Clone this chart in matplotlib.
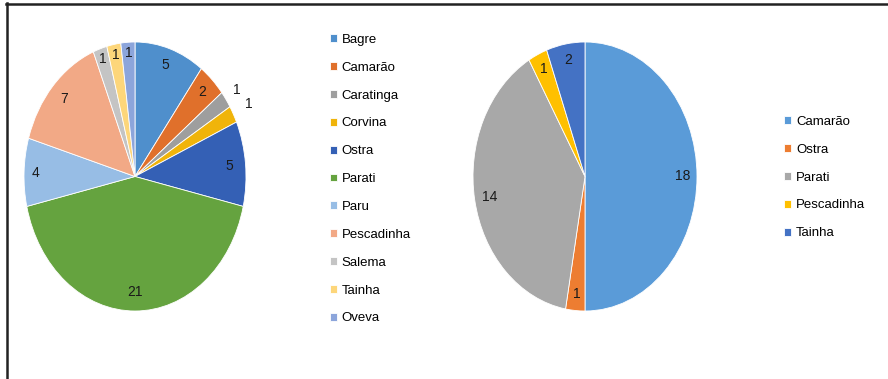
import matplotlib.pyplot as plt
import numpy as np
from matplotlib.lines import Line2D

plt.rcParams["font.family"] = ["Liberation Sans", "DejaVu Sans"]

# catch by species, site 1
species_1 = ["Bagre", "Camarão", "Caratinga", "Corvina", "Ostra", "Parati",
             "Paru", "Pescadinha", "Salema", "Tainha", "Oveva"]
counts_1 = [5, 2, 1, 1, 5, 21, 4, 7, 1, 1, 1]
colors_1 = ["#4F8FCC", "#E0702B", "#9E9E9E", "#F0B40A", "#3460B5", "#65A33F",
            "#97BDE5", "#F2A986", "#C4C4C4", "#FDD67A", "#8CA5DB"]

# catch by species, site 2
species_2 = ["Camarão", "Ostra", "Parati", "Pescadinha", "Tainha"]
counts_2 = [18, 1, 14, 1, 2]
colors_2 = ["#5A9BD8", "#ED7D31", "#A8A8A8", "#FFC000", "#4472C4"]

W, H = 888, 379
fig = plt.figure(figsize=(W / 100, H / 100), dpi=100)


def px_axes(x0, y0, x1, y1):
    return fig.add_axes([x0 / W, 1 - y1 / H, (x1 - x0) / W, (y1 - y0) / H])


def draw_pie(ax, counts, colors, label_r):
    wedges, _ = ax.pie(counts, colors=colors, startangle=90, counterclock=False,
                       radius=1.0, wedgeprops=dict(edgecolor="white", linewidth=0.6))
    ax.set_aspect("auto")
    ax.set_xlim(-1, 1)
    ax.set_ylim(-1, 1)
    for w, v, r in zip(wedges, counts, label_r):
        mid = np.deg2rad((w.theta1 + w.theta2) / 2)
        ax.text(r * np.cos(mid), r * np.sin(mid), str(v), ha="center", va="center",
                fontsize=10, color="#1a1a1a")
    return wedges


ax1 = px_axes(24, 42, 246, 311)
r1 = [0.87, 0.87, 1.12, 1.16, 0.85, 0.86, 0.9, 0.86, 0.92, 0.92, 0.92]
w1 = draw_pie(ax1, counts_1, colors_1, r1)

ax2 = px_axes(473, 42, 697, 311)
r2 = [0.87, 0.88, 0.86, 0.88, 0.88]
w2 = draw_pie(ax2, counts_2, colors_2, r2)

leg_kw = dict(loc="upper left", frameon=False, fontsize=9.5, handlelength=0.55,
              handleheight=0.55, handletextpad=0.35, labelspacing=1.2,
              borderpad=0, borderaxespad=0)
fig.legend(w1, species_1, bbox_to_anchor=(330 / W, 1 - 34 / H), **leg_kw)
fig.legend(w2, species_2, bbox_to_anchor=(784 / W, 1 - 116 / H), **leg_kw)

# outer frame: top and left edges only
fig.add_artist(Line2D([6 / W, 1], [1 - 3.5 / H, 1 - 3.5 / H], color="#222222", lw=1.8))
fig.add_artist(Line2D([6.5 / W, 6.5 / W], [0, 1 - 3 / H], color="#222222", lw=1.8))

fig.savefig("out.png", dpi=100)
